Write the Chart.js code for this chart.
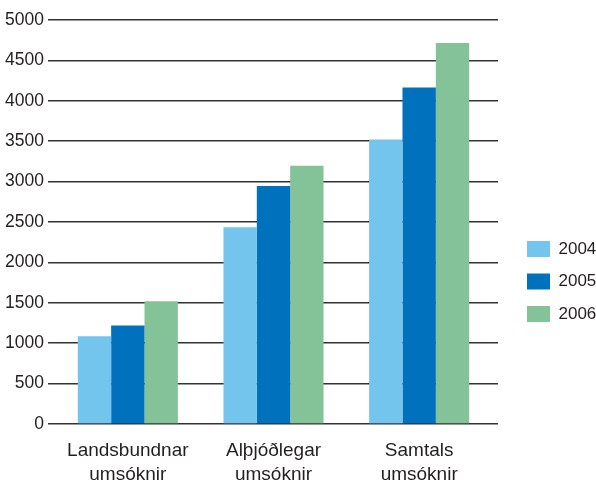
<!DOCTYPE html>
<html><head><meta charset="utf-8">
<script src="https://cdn.jsdelivr.net/npm/chart.js@4/dist/chart.umd.min.js"></script>
<style>html,body{margin:0;padding:0;background:#fff}#wrap{width:596px;height:482px}</style>
</head><body><div id="wrap"><canvas id="c"></canvas></div>
<script>
const categories = [['Landsbundnar','umsóknir'], ['Alþjóðlegar','umsóknir'], ['Samtals','umsóknir']];
const seriesNames = ['2004', '2005', '2006'];
const values2004 = [1085, 2435, 3520];
const values2005 = [1220, 2945, 4165];
const values2006 = [1520, 3195, 4715];
const yMin = 0, yMax = 5000, yStep = 500;

const colors = ['#73c5ee', '#0071bc', '#84c298'];
const textColor = '#231f20';
const gridColor = '#333333';
const font = "'Liberation Sans', Arial, sans-serif";

new Chart(document.getElementById('c'), {
  type: 'bar',
  data: {
    labels: categories,
    datasets: [values2004, values2005, values2006].map((v, i) => ({
      label: seriesNames[i], data: v, backgroundColor: colors[i],
      borderWidth: 0, categoryPercentage: 0.687, barPercentage: 1.0
    }))
  },
  options: {
    responsive: true, maintainAspectRatio: false, animation: false,
    layout: { padding: { top: 20, left: 0, right: 0, bottom: 0 } },
    plugins: {
      tooltip: { enabled: false },
      legend: {
        position: 'right', align: 'center', maxWidth: 84.5,
        title: { display: true, text: ' ', font: { size: 1, lineHeight: 1 }, padding: { top: 60, bottom: 0 } },
        labels: { boxWidth: 23, boxHeight: 16, padding: 15.5, color: textColor, font: { family: font, size: 17 } }
      }
    },
    scales: {
      x: {
        grid: { display: false }, border: { display: false },
        ticks: { color: textColor, padding: 6, font: { family: font, size: 19, lineHeight: 1.3 }, maxRotation: 0 },
        afterFit: (a) => { a.height = 58; }
      },
      y: {
        min: yMin, max: yMax,
        grid: { color: gridColor, lineWidth: 1.5, drawTicks: true, tickLength: 7 },
        border: { display: false },
        ticks: { stepSize: yStep, color: textColor, padding: 4, font: { family: font, size: 17.5 },
                 callback: (v) => String(v) },
        afterFit: (a) => { a.width = 55; }
      },
      y2: {
        position: 'right', min: yMin, max: yMax,
        grid: { color: gridColor, lineWidth: 1.5, drawOnChartArea: false, drawTicks: true, tickLength: 6 },
        border: { display: false },
        ticks: { stepSize: yStep, display: false },
        afterFit: (a) => { a.width = 19.5; }
      }
    }
  }
});
</script></body></html>
